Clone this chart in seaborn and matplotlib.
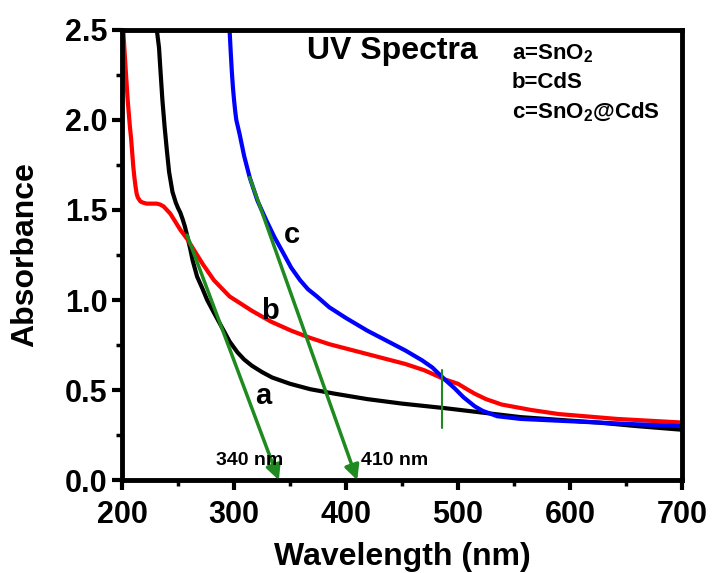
import matplotlib
matplotlib.use("Agg")
import matplotlib.pyplot as plt
import seaborn as sns
import pandas as pd
from matplotlib.ticker import MultipleLocator

# ---- data ----
a_wl = [231, 233, 234, 236, 238, 240, 242, 245, 248, 250, 252, 254, 256, 258, 261, 263, 267,
        272, 276, 282, 289, 296, 303, 309, 316, 325, 334, 350, 368, 390, 419, 450, 488, 522,
        556, 590, 625, 660, 700]
a_abs = [2.5, 2.4, 2.3, 2.11, 1.96, 1.83, 1.71, 1.6, 1.54, 1.51, 1.485, 1.45, 1.41, 1.36,
         1.28, 1.22, 1.13, 1.06, 1.0, 0.93, 0.85, 0.77, 0.71, 0.67, 0.635, 0.6, 0.57, 0.535,
         0.505, 0.48, 0.45, 0.425, 0.40, 0.375, 0.35, 0.335, 0.32, 0.30, 0.28]

b_wl = [201, 202, 203, 205, 207, 208, 210, 211, 212, 213, 214, 216, 217, 219, 222, 226, 231,
        234, 237, 240, 243, 248, 252, 258, 265, 272, 282, 296, 316, 333, 351, 368, 385, 419,
        453, 470, 488, 500, 508, 515, 525, 539, 565, 590, 642, 700]
b_abs = [2.5, 2.4, 2.3, 2.11, 1.96, 1.9, 1.74, 1.68, 1.63, 1.59, 1.57, 1.55, 1.545, 1.54,
         1.535, 1.535, 1.535, 1.53, 1.52, 1.5, 1.48, 1.43, 1.39, 1.34, 1.27, 1.2, 1.11, 1.02,
         0.94, 0.88, 0.83, 0.79, 0.755, 0.70, 0.645, 0.61, 0.56, 0.535, 0.505, 0.48, 0.45,
         0.42, 0.39, 0.367, 0.34, 0.32]

c_wl = [296, 297, 298, 299, 300, 301, 302, 303.5, 305, 307, 309, 311.5, 314, 321, 329, 336,
        344, 351, 359, 366, 374, 385, 400, 419, 436, 453, 468, 477, 488, 497, 505, 515, 522,
        535, 556, 590, 625, 660, 700]
c_abs = [2.5, 2.38, 2.27, 2.18, 2.11, 2.05, 2.0, 1.96, 1.92, 1.86, 1.8, 1.74, 1.68, 1.55,
         1.44, 1.35, 1.26, 1.18, 1.11, 1.06, 1.02, 0.96, 0.9, 0.83, 0.775, 0.72, 0.665,
         0.626, 0.56, 0.51, 0.46, 0.41, 0.385, 0.355, 0.34, 0.33, 0.32, 0.31, 0.30]

series_names = ["a", "b", "c"]
series_colors = ["black", "red", "blue"]

tangent_start = [(258, 1.36), (314, 1.68)]
tangent_end = [(340, 0.0), (410, 0.0)]
edge_labels = ["340 nm", "410 nm"]
crossing_wl = 486
crossing_range = (0.29, 0.61)

x_ticks = [200, 300, 400, 500, 600, 700]
y_ticks = [0.0, 0.5, 1.0, 1.5, 2.0, 2.5]

df = pd.concat([
    pd.DataFrame({"Wavelength": a_wl, "Absorbance": a_abs, "sample": "a"}),
    pd.DataFrame({"Wavelength": b_wl, "Absorbance": b_abs, "sample": "b"}),
    pd.DataFrame({"Wavelength": c_wl, "Absorbance": c_abs, "sample": "c"}),
], ignore_index=True)

sns.set_style("ticks")
plt.rcParams["font.family"] = ["Liberation Sans", "DejaVu Sans"]
plt.rcParams["font.weight"] = "bold"
plt.rcParams["mathtext.fontset"] = "custom"
plt.rcParams["mathtext.bf"] = "Liberation Sans:bold"
plt.rcParams["mathtext.rm"] = "Liberation Sans:bold"
for key in ["text.color", "axes.labelcolor", "xtick.color", "ytick.color", "axes.edgecolor"]:
    plt.rcParams[key] = "black"

fig = plt.figure(figsize=(7.14, 5.73), dpi=100)
ax = fig.add_axes([0.171, 0.162, 0.784, 0.786])

sns.lineplot(data=df, x="Wavelength", y="Absorbance", hue="sample",
             palette=dict(zip(series_names, series_colors)), lw=3, ax=ax,
             legend=False, sort=False, estimator=None)
for ln in ax.lines:
    ln.set_solid_joinstyle("round")
    ln.set_solid_capstyle("round")

for (x0, y0), (x1, y1) in zip(tangent_start, tangent_end):
    ax.annotate("", xy=(x1, y1), xytext=(x0, y0),
                arrowprops=dict(arrowstyle="-|>", color="#1f8a1f", lw=2.5,
                                mutation_scale=22, shrinkA=0, shrinkB=0))
ax.plot([crossing_wl, crossing_wl], crossing_range, color="#1f8a1f", lw=1.5)

ax.set_xlim(200, 700)
ax.set_ylim(0, 2.5)
ax.set_xticks(x_ticks)
ax.set_yticks(y_ticks)
ax.set_yticklabels([f"{v:.1f}" for v in y_ticks])
ax.xaxis.set_minor_locator(MultipleLocator(50))
ax.yaxis.set_minor_locator(MultipleLocator(0.25))
ax.tick_params(which="major", direction="out", length=7, width=3, labelsize=22)
ax.tick_params(which="minor", direction="out", length=4, width=2.5)
ax.tick_params(axis="x", which="major", pad=7)
for lab in ax.get_xticklabels() + ax.get_yticklabels():
    lab.set_fontweight("bold")
for s in ax.spines.values():
    s.set_linewidth(3.5)
    s.set_visible(True)
    s.set_color("black")

ax.set_xlabel("Wavelength (nm)", fontsize=23, fontweight="bold", labelpad=9)
ax.set_ylabel("Absorbance", fontsize=23, fontweight="bold", labelpad=18)

ax.text(365, 2.38, "UV Spectra", fontsize=23, fontweight="bold", va="center", ha="left")
ax.text(548, 2.37, "a=SnO$_\\mathregular{2}$", fontsize=16, fontweight="bold", va="center")
ax.text(548, 2.21, "b=CdS", fontsize=16, fontweight="bold", va="center")
ax.text(548, 2.04, "c=SnO$_\\mathregular{2}$@CdS", fontsize=16, fontweight="bold", va="center")

ax.text(326, 0.47, "a", fontsize=21, fontweight="bold", ha="center", va="center")
ax.text(332, 0.94, "b", fontsize=21, fontweight="bold", ha="center", va="center")
ax.text(352, 1.36, "c", fontsize=21, fontweight="bold", ha="center", va="center")

ax.text(314, 0.11, edge_labels[0], fontsize=14, fontweight="bold", ha="center", va="center")
ax.text(413, 0.11, edge_labels[1], fontsize=14, fontweight="bold", ha="left", va="center")

fig.savefig("out.png", dpi=100)
